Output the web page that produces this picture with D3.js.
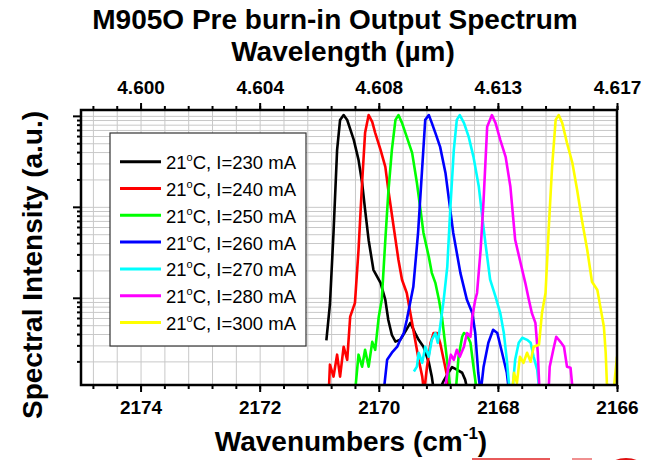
<!DOCTYPE html>
<html>
<head>
<meta charset="utf-8">
<script src="https://cdn.jsdelivr.net/npm/d3@7"></script>
<style>
  body { margin: 0; background: #fff; }
  svg { font-family: "Liberation Sans", Arial, sans-serif; }
</style>
</head>
<body>
<div id="chart"></div>
<script>
// drive currents (mA) at 21 C, one spectrum each
const currents = [230, 240, 250, 260, 270, 280, 300];
const colors = ["#000000", "#ff0000", "#00ff00", "#0000ff", "#00ffff", "#ff00ff", "#ffff00"];

const wnTicks = [2174, 2172, 2170, 2168, 2166];
const wlLabels = ["4.600", "4.604", "4.608", "4.613", "4.617"];

// [wavenumber cm^-1, normalised intensity]; 0.0009 = below the plotted floor
const s230 = [[2170.88,0.0034],[2170.82,0.0085],[2170.76,0.052],[2170.70,0.42],[2170.65,0.90],[2170.59,1.02],[2170.53,0.90],[2170.42,0.545],[2170.34,0.328],[2170.28,0.184],[2170.23,0.093],[2170.17,0.043],[2170.09,0.0203],[2169.97,0.0146],[2169.89,0.0095],[2169.84,0.0057],[2169.78,0.0039],[2169.72,0.0033],[2169.64,0.00345],[2169.56,0.0042],[2169.47,0.0053],[2169.39,0.0041],[2169.33,0.00345],[2169.25,0.0029],[2169.16,0.00195],[2169.11,0.00136],[2169.07,0.0009],[2169.00,0.0009],[2168.92,0.00119],[2168.85,0.00143],[2168.77,0.00173],[2168.69,0.00162],[2168.60,0.0015],[2168.55,0.00126],[2168.50,0.0009]];
const s240 = [[2170.84,0.0009],[2170.82,0.00184],[2170.76,0.00136],[2170.70,0.00237],[2170.65,0.00136],[2170.59,0.0029],[2170.53,0.00208],[2170.48,0.0062],[2170.40,0.0088],[2170.34,0.0337],[2170.28,0.184],[2170.23,0.651],[2170.17,1.02],[2170.11,0.86],[2170.06,0.651],[2169.97,0.423],[2169.89,0.275],[2169.84,0.154],[2169.75,0.060],[2169.67,0.0262],[2169.61,0.0158],[2169.53,0.0113],[2169.47,0.0068],[2169.39,0.00345],[2169.33,0.00208],[2169.27,0.00136],[2169.24,0.0009],[2169.19,0.00175],[2169.13,0.0032],[2169.08,0.0041],[2169.02,0.0041],[2168.97,0.0032],[2168.91,0.00208],[2168.85,0.00136],[2168.82,0.0009]];
const s250 = [[2170.40,0.0009],[2170.34,0.00237],[2170.28,0.00175],[2170.23,0.00268],[2170.17,0.00175],[2170.11,0.00328],[2170.06,0.00268],[2170.00,0.0062],[2169.95,0.0095],[2169.89,0.0434],[2169.84,0.143],[2169.78,0.423],[2169.72,0.904],[2169.67,1.02],[2169.61,0.838],[2169.53,0.588],[2169.44,0.392],[2169.36,0.184],[2169.30,0.093],[2169.25,0.052],[2169.16,0.0282],[2169.11,0.0188],[2169.05,0.0146],[2168.99,0.0095],[2168.94,0.0062],[2168.88,0.0029],[2168.83,0.0015],[2168.79,0.0009],[2168.71,0.0009],[2168.66,0.00225],[2168.60,0.00373],[2168.57,0.0041],[2168.52,0.0039],[2168.46,0.0032],[2168.41,0.00175],[2168.35,0.0009]];
const s260 = [[2169.92,0.0009],[2169.86,0.00208],[2169.78,0.00249],[2169.69,0.0029],[2169.64,0.00345],[2169.58,0.0041],[2169.53,0.0057],[2169.42,0.0132],[2169.34,0.052],[2169.27,0.275],[2169.22,0.904],[2169.16,1.02],[2169.11,0.838],[2169.05,0.651],[2168.97,0.456],[2168.88,0.236],[2168.80,0.093],[2168.75,0.052],[2168.63,0.0188],[2168.52,0.0095],[2168.43,0.0068],[2168.38,0.0041],[2168.33,0.0015],[2168.29,0.0009],[2168.24,0.00175],[2168.16,0.0032],[2168.08,0.00445],[2168.01,0.0041],[2167.93,0.00249],[2167.85,0.0015],[2167.81,0.0009]];
const s270 = [[2169.41,0.00155],[2169.36,0.00175],[2169.33,0.00249],[2169.27,0.00193],[2169.22,0.0029],[2169.16,0.00225],[2169.11,0.00345],[2169.05,0.0041],[2169.01,0.0032],[2168.97,0.0048],[2168.91,0.0095],[2168.85,0.0219],[2168.80,0.093],[2168.74,0.423],[2168.69,0.904],[2168.64,1.02],[2168.57,0.838],[2168.49,0.588],[2168.41,0.354],[2168.32,0.166],[2168.27,0.086],[2168.21,0.0402],[2168.13,0.0158],[2168.04,0.0103],[2167.96,0.0068],[2167.90,0.0041],[2167.85,0.00208],[2167.80,0.0009],[2167.76,0.0009],[2167.71,0.00208],[2167.65,0.0032],[2167.59,0.00364],[2167.51,0.00345],[2167.45,0.0032],[2167.40,0.00225],[2167.34,0.00162],[2167.30,0.0009]];
const s280 = [[2168.90,0.0009],[2168.83,0.00175],[2168.79,0.00237],[2168.74,0.00208],[2168.69,0.00268],[2168.64,0.00225],[2168.57,0.0029],[2168.52,0.0041],[2168.46,0.00373],[2168.43,0.0062],[2168.38,0.0095],[2168.35,0.0113],[2168.29,0.0337],[2168.24,0.119],[2168.18,0.757],[2168.10,1.02],[2168.04,0.838],[2167.96,0.545],[2167.87,0.354],[2167.79,0.166],[2167.71,0.0434],[2167.62,0.0243],[2167.54,0.0146],[2167.48,0.0095],[2167.43,0.0068],[2167.37,0.0053],[2167.33,0.00249],[2167.30,0.0009],[2167.15,0.0009],[2167.13,0.00175],[2167.07,0.00268],[2167.02,0.00373],[2166.95,0.00328],[2166.89,0.0029],[2166.84,0.00175],[2166.78,0.0017],[2166.74,0.0009]];
const s300 = [[2167.76,0.0009],[2167.73,0.0015],[2167.68,0.00116],[2167.63,0.00225],[2167.57,0.00193],[2167.51,0.00249],[2167.45,0.00198],[2167.40,0.0029],[2167.31,0.00305],[2167.26,0.0068],[2167.20,0.0113],[2167.15,0.052],[2167.09,0.275],[2167.03,0.904],[2166.98,1.02],[2166.92,0.838],[2166.84,0.505],[2166.75,0.305],[2166.67,0.154],[2166.59,0.072],[2166.50,0.0337],[2166.42,0.015],[2166.33,0.0122],[2166.28,0.008],[2166.22,0.0048],[2166.19,0.00249],[2166.17,0.00116],[2166.14,0.0009],[2166.06,0.0009],[2166.00,0.00225]];

const spectra = [s230, s240, s250, s260, s270, s280, s300];

const width = 648, height = 460;
const margin = { top: 110, right: 31, bottom: 75, left: 81 };
const plotW = width - margin.left - margin.right;
const plotH = height - margin.top - margin.bottom;

const svg = d3.select("#chart").append("svg")
    .attr("width", width)
    .attr("height", height);

const x = d3.scaleLinear().domain([2175, 2166]).range([margin.left, margin.left + plotW]);
const y = d3.scaleLog().domain([0.0011, 1.16]).range([margin.top + plotH, margin.top]);

const minorWn = d3.range(0, 23).map(i => +(2174.8 - 0.4 * i).toFixed(1));
const logTicks = y.ticks();
const decades = [0.01, 0.1, 1];

// grid
svg.append("g")
    .attr("transform", `translate(0,${margin.top + plotH})`)
    .call(d3.axisBottom(x).tickValues(minorWn).tickSize(-plotH).tickFormat(""))
    .call(g => g.select(".domain").remove())
    .selectAll("line").attr("stroke", "#c8c8c8").attr("stroke-width", 1);

svg.append("g")
    .attr("transform", `translate(${margin.left},0)`)
    .call(d3.axisLeft(y).tickValues(logTicks).tickSize(-plotW).tickFormat(""))
    .call(g => g.select(".domain").remove())
    .selectAll("line").attr("stroke", "#c8c8c8").attr("stroke-width", 1);

// spectra
svg.append("clipPath").attr("id", "plot-clip")
    .append("rect")
    .attr("x", margin.left).attr("y", margin.top)
    .attr("width", plotW).attr("height", plotH);

const line = d3.line()
    .x(d => x(d[0]))
    .y(d => y(d[1]));

svg.append("g")
    .attr("clip-path", "url(#plot-clip)")
    .selectAll("path")
    .data(spectra)
    .enter().append("path")
    .attr("d", line)
    .attr("fill", "none")
    .attr("stroke", (d, i) => colors[i])
    .attr("stroke-width", 2.6)
    .attr("stroke-linejoin", "round");

// axes
function styleAxis(g) {
    g.select(".domain").remove();
    g.selectAll("line").attr("stroke", "#000").attr("stroke-width", 2);
    g.selectAll("text")
        .attr("fill", "#000")
        .style("font-size", "19px")
        .style("font-weight", "bold")
        .style("font-family", "'Liberation Sans', Arial, sans-serif");
}

svg.append("g")
    .attr("transform", `translate(0,${margin.top + plotH})`)
    .call(d3.axisBottom(x).tickValues(minorWn).tickSize(4).tickFormat(""))
    .call(styleAxis);
svg.append("g")
    .attr("transform", `translate(0,${margin.top + plotH})`)
    .call(d3.axisBottom(x).tickValues(wnTicks).tickSize(7).tickPadding(9).tickFormat(d3.format("d")))
    .call(styleAxis);

svg.append("g")
    .attr("transform", `translate(0,${margin.top})`)
    .call(d3.axisTop(x).tickValues(minorWn).tickSize(4).tickFormat(""))
    .call(styleAxis);
svg.append("g")
    .attr("transform", `translate(0,${margin.top})`)
    .call(d3.axisTop(x).tickValues(wnTicks).tickSize(7).tickPadding(9).tickFormat((d, i) => wlLabels[i]))
    .call(styleAxis);

svg.append("g")
    .attr("transform", `translate(${margin.left},0)`)
    .call(d3.axisLeft(y).tickValues(logTicks.filter(v => !decades.includes(v))).tickSize(4).tickFormat(""))
    .call(styleAxis);
svg.append("g")
    .attr("transform", `translate(${margin.left},0)`)
    .call(d3.axisLeft(y).tickValues(decades).tickSize(8).tickFormat(""))
    .call(styleAxis);

svg.append("rect")
    .attr("x", margin.left).attr("y", margin.top)
    .attr("width", plotW).attr("height", plotH)
    .attr("fill", "none")
    .attr("stroke", "#000")
    .attr("stroke-width", 2.5);

// legend
const legend = svg.append("g").attr("transform", "translate(110,133)");
legend.append("rect")
    .attr("width", 196).attr("height", 213)
    .attr("fill", "#fff")
    .attr("stroke", "#333")
    .attr("stroke-width", 1.2);

const rows = legend.selectAll("g.row")
    .data(currents)
    .enter().append("g")
    .attr("class", "row")
    .attr("transform", (d, i) => `translate(0,${28.7 + i * 26.8})`);
rows.append("line")
    .attr("x1", 10).attr("x2", 51)
    .attr("stroke", (d, i) => colors[i])
    .attr("stroke-width", 3);
const rowText = rows.append("text")
    .attr("x", 56).attr("y", 7.5)
    .style("font-size", "18.5px");
rowText.append("tspan").text("21");
rowText.append("tspan").attr("dy", -8).style("font-size", "11px").text("o");
rowText.append("tspan").attr("dy", 8).text(d => `C, I=${d} mA`);

// titles
svg.append("text")
    .attr("x", 335).attr("y", 29)
    .attr("text-anchor", "middle")
    .style("font-size", "28px").style("font-weight", "bold")
    .text("M905O Pre burn-in Output Spectrum");

svg.append("text")
    .attr("x", 343).attr("y", 61)
    .attr("text-anchor", "middle")
    .style("font-size", "28px").style("font-weight", "bold")
    .text("Wavelength (\u00b5m)");

const xTitle = svg.append("text")
    .attr("x", 351).attr("y", 451)
    .attr("text-anchor", "middle")
    .style("font-size", "28px").style("font-weight", "bold");
xTitle.append("tspan").text("Wavenumbers (cm");
xTitle.append("tspan").attr("dy", -12).style("font-size", "17px").text("-1");
xTitle.append("tspan").attr("dy", 12).text(")");

svg.append("text")
    .attr("transform", "translate(42,265) rotate(-90)")
    .attr("text-anchor", "middle")
    .style("font-size", "28px").style("font-weight", "bold")
    .text("Spectral Intensity (a.u.)");

// cropped red logo fragment along the bottom edge
svg.append("rect").attr("x", 472).attr("y", 458).attr("width", 78).attr("height", 2).attr("fill", "#e85a5a");
svg.append("rect").attr("x", 572).attr("y", 458).attr("width", 20).attr("height", 2).attr("fill", "#f09090");
svg.append("ellipse").attr("cx", 626).attr("cy", 465).attr("rx", 15).attr("ry", 7).attr("fill", "#e01010");
</script>
</body>
</html>
